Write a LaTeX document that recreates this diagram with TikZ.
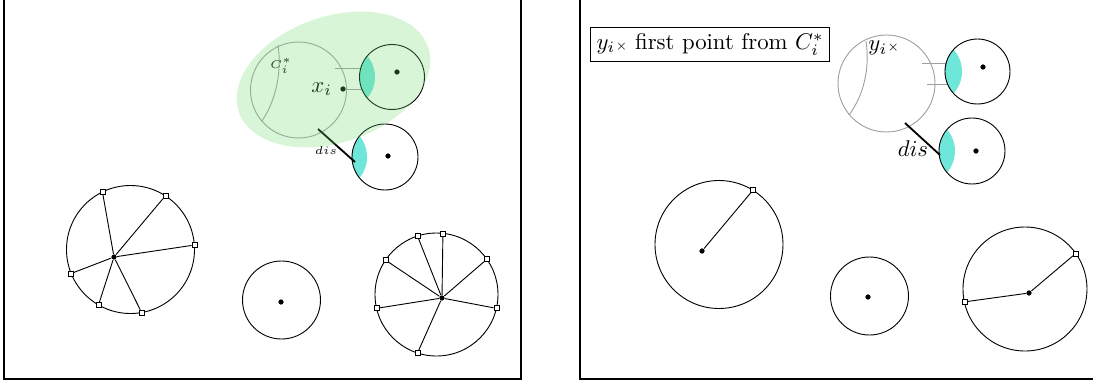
\documentclass[tikz,border=0pt]{standalone}
\usepackage{amsmath,amssymb}
\usepackage{xcolor}
\usepackage{tikz}
\usetikzlibrary{calc}

\definecolor{lensc}{RGB}{110,231,218}
\definecolor{blobc}{RGB}{112,217,112}

\begin{document}
\begin{tikzpicture}[
  x=0.44pt, y=-0.44pt,
  ring/.style={draw, black},
  ghost/.style={draw, gray!75},
  dot/.style={circle, fill=black, inner sep=0pt, minimum size=2.3pt},
  sq/.style={draw, fill=white, inner sep=0pt, minimum size=2.2pt, line width=0.3pt},
  spoke/.style={black},
  lens/.style={fill=lensc},
  disl/.style={thick, black},
  blob/.style={fill=blobc, fill opacity=0.27},
  panel/.style={draw, line width=0.5pt},
  key/.style={draw, inner sep=2.5pt}
]
  \useasboundingbox (0,0) rectangle (1093,385);
  \clip (0,0) rectangle (1093,385);

  % Panels
  \draw[panel] (4,-20) rectangle (521,379);
  \draw[panel] (580,-20) rectangle (1120,379);

  % ---------- Left panel ----------
  % Cluster C_i^*
  \draw[ghost] (298.5,90) circle (48);
  \draw[ghost] (278,45) .. controls (282,72) and (276,100) .. (262,121);
  \node[font=\tiny] (cstar) at (281,66) {$C_i^*$};
  \node[dot] (xi) at (343,89) {};
  \node[left=0pt] (xilbl) at (xi.west) {$x_i$};
  \draw[ghost] (335,68) -- (363,68);
  \draw[ghost] (347,89) -- (363,89);

  % Neighbouring clusters with overlap
  \begin{scope}
    \clip (392,77) circle (32.5);
    \fill[lens] (342.5,77) circle (32.5);
  \end{scope}
  \draw[ring] (392,77) circle (32.5);
  \node[dot] (u1) at (397,72) {};
  \begin{scope}
    \clip (385,157) circle (33);
    \fill[lens] (334,157) circle (33);
  \end{scope}
  \draw[ring] (385,157) circle (33);
  \node[dot] (u2) at (388,156) {};
  \coordinate (disa) at (318,129);
  \coordinate (disb) at (355,162);
  \draw[disl] (disa) -- (disb);
  \node[font=\tiny] (dislbl) at (326,151) {$dis$};

  % Green region
  \fill[blob, rotate around={19:(333.5,79.5)}] (333.5,79.5) ellipse (100 and 63);

  % Bottom circles
  \coordinate (lc1) at (130.5,249.5);
  \draw[ring] (lc1) circle (64);
  \node[dot] (l1) at (114,257) {};
  \node[sq] (l1a) at ([shift={(-116:64)}]lc1) {};
  \node[sq] (l1b) at ([shift={(-57:64)}]lc1) {};
  \node[sq] (l1c) at ([shift={(-4:64)}]lc1) {};
  \node[sq] (l1d) at ([shift={(158:64)}]lc1) {};
  \node[sq] (l1e) at ([shift={(120:64)}]lc1) {};
  \node[sq] (l1f) at ([shift={(80:64)}]lc1) {};
  \draw[spoke] (l1) -- (l1a);
  \draw[spoke] (l1) -- (l1b);
  \draw[spoke] (l1) -- (l1c);
  \draw[spoke] (l1) -- (l1d);
  \draw[spoke] (l1) -- (l1e);
  \draw[spoke] (l1) -- (l1f);

  \draw[ring] (281.5,300) circle (39);
  \node[dot] (l2) at (281,302) {};

  \coordinate (lc3) at (436.5,294.5);
  \draw[ring] (lc3) circle (61.5);
  \node[dot] (l3) at (442,298) {};
  \node[sq] (l3a) at ([shift={(-84:61.5)}]lc3) {};
  \node[sq] (l3b) at ([shift={(-108:61.5)}]lc3) {};
  \node[sq] (l3c) at ([shift={(-146:61.5)}]lc3) {};
  \node[sq] (l3d) at ([shift={(-35:61.5)}]lc3) {};
  \node[sq] (l3e) at ([shift={(13:61.5)}]lc3) {};
  \node[sq] (l3f) at ([shift={(167:61.5)}]lc3) {};
  \node[sq] (l3g) at ([shift={(108:61.5)}]lc3) {};
  \draw[spoke] (l3) -- (l3a);
  \draw[spoke] (l3) -- (l3b);
  \draw[spoke] (l3) -- (l3c);
  \draw[spoke] (l3) -- (l3d);
  \draw[spoke] (l3) -- (l3e);
  \draw[spoke] (l3) -- (l3f);
  \draw[spoke] (l3) -- (l3g);

  % ---------- Right panel ----------
  \node[key] (legend) at (710,44.5) {$y_i${\tiny$\times$} first point from $C_i^*$};

  \draw[ghost] (886.5,83.5) circle (48.5);
  \draw[ghost] (866,41) .. controls (870,68) and (864,95) .. (849,115);
  \node (yi) at (884,48) {$y_i${\tiny$\times$}};
  \draw[ghost] (922,63) -- (950,63);
  \draw[ghost] (927,84) -- (950,84);

  \begin{scope}
    \clip (977.5,71.5) circle (32.5);
    \fill[lens] (929.5,71.5) circle (32.5);
  \end{scope}
  \draw[ring] (977.5,71.5) circle (32.5);
  \node[dot] (v1) at (983,67) {};
  \begin{scope}
    \clip (972,151) circle (33);
    \fill[lens] (922,151) circle (33);
  \end{scope}
  \draw[ring] (972,151) circle (33);
  \node[dot] (v2) at (976,151) {};
  \coordinate (dis2a) at (905,123);
  \coordinate (dis2b) at (940,155);
  \draw[disl] (dis2a) -- (dis2b);
  \node (dis2lbl) at (913,149) {$dis$};

  \coordinate (rc1) at (719,244.5);
  \draw[ring] (rc1) circle (64);
  \node[dot] (r1) at (702,251) {};
  \node[sq] (r1a) at ([shift={(-58:64)}]rc1) {};
  \draw[spoke] (r1) -- (r1a);

  \draw[ring] (869.5,296) circle (39);
  \node[dot] (r2) at (868,297) {};

  \coordinate (rc3) at (1025,289);
  \draw[ring] (rc3) circle (62);
  \node[dot] (r3) at (1029,293) {};
  \node[sq] (r3a) at ([shift={(-35:62)}]rc3) {};
  \node[sq] (r3b) at ([shift={(168:62)}]rc3) {};
  \draw[spoke] (r3) -- (r3a);
  \draw[spoke] (r3) -- (r3b);
\end{tikzpicture}
\end{document}
